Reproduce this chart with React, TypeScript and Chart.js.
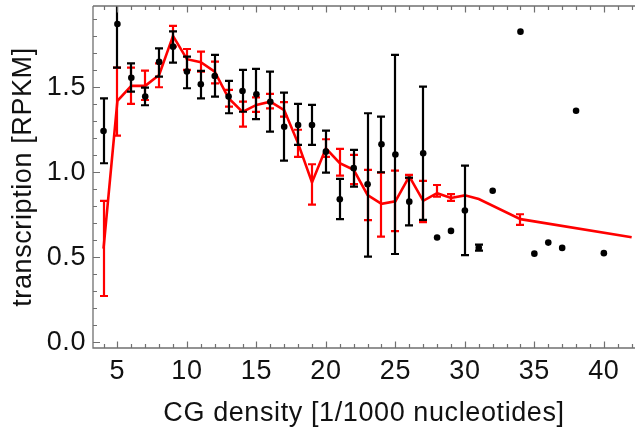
import React, { useEffect, useRef } from 'react';
import { Chart, registerables } from 'chart.js';

Chart.register(...registerables);

// ---- Data ----
// Black series: observed means with error bars
const blackX = [4, 5, 6, 7, 8, 9, 10, 11, 12, 13, 14, 15, 16, 17, 18, 19, 20, 21, 22, 23, 24, 25, 26, 27, 28, 29, 30, 31, 32, 34, 35, 36, 37, 38, 40];
const blackY = [1.243, 1.872, 1.556, 1.445, 1.649, 1.739, 1.592, 1.518, 1.566, 1.445, 1.478, 1.459, 1.415, 1.268, 1.278, 1.278, 1.121, 0.841, 1.024, 0.929, 1.165, 1.104, 0.827, 1.112, 0.616, 0.655, 0.775, 0.556, 0.891, 1.827, 0.521, 0.586, 0.555, 1.362, 0.524];
const blackLow: (number | null)[] = [1.053, 1.615, 1.474, 1.394, 1.562, 1.645, 1.494, 1.435, 1.445, 1.347, 1.356, 1.312, 1.239, 1.068, 1.161, 1.161, 0.998, 0.724, 0.915, 0.504, 1.0, 0.519, 0.687, 0.72, null, null, 0.512, 0.539, null, null, null, null, null, null, null];
const blackHigh: (number | null)[] = [1.435, 2.13, 1.641, 1.498, 1.729, 1.829, 1.68, 1.596, 1.69, 1.537, 1.602, 1.608, 1.592, 1.468, 1.402, 1.396, 1.245, 0.961, 1.131, 1.347, 1.327, 1.69, 0.968, 1.504, null, null, 1.039, 0.574, null, null, null, null, null, null, null];

// Red series: model line with error bars
const redX = [4, 5, 6, 7, 8, 9, 10, 11, 12, 13, 14, 15, 16, 17, 18, 19, 20, 21, 22, 23, 24, 25, 26, 27, 28, 29, 30, 31, 34, 42];
const redY = [0.55, 1.42, 1.508, 1.508, 1.572, 1.802, 1.665, 1.647, 1.592, 1.435, 1.355, 1.396, 1.415, 1.366, 1.17, 0.94, 1.141, 1.053, 1.014, 0.866, 0.814, 0.829, 0.976, 0.832, 0.877, 0.849, 0.864, 0.842, 0.724, 0.618];
const redLow: (number | null)[] = [0.272, 1.215, 1.402, 1.425, 1.5, 1.739, 1.602, 1.592, 1.523, 1.386, 1.268, 1.355, 1.376, 1.327, 1.09, 0.81, 1.09, 0.98, 0.93, 0.718, 0.621, 0.653, 0.965, 0.707, 0.856, 0.831, null, null, 0.69, null];
const redHigh: (number | null)[] = [0.831, 1.615, 1.615, 1.598, 1.641, 1.861, 1.725, 1.709, 1.651, 1.484, 1.415, 1.44, 1.461, 1.412, 1.25, 1.047, 1.194, 1.137, 1.102, 1.014, 0.998, 1.009, 0.985, 0.949, 0.925, 0.871, null, null, 0.753, null];

// Axes
const xTicks = [5, 10, 15, 20, 25, 30, 35, 40];
const yTicks = [0, 0.5, 1.0, 1.5];
const xRange = [3.243, 42.24];
const yRange = [-0.034, 1.978];
const xMinorStep = 1;
const yMinorStep = 0.1;
const xTitle = 'CG density [1/1000 nucleotides]';
const yTitle = 'transcription [RPKM]';

const FONT = "'Liberation Sans', Arial, Helvetica, sans-serif";
const TEXT = '#111111';
const AXIS = '#707070';

const errorBarPlugin = {
  id: 'errorBars',
  beforeDatasetDraw(chart: any, args: any) {
    const ds = chart.data.datasets[args.index];
    if (!ds.errLow) return;
    const yScale = chart.scales.y;
    const ctx: CanvasRenderingContext2D = chart.ctx;
    const a = chart.chartArea;
    ctx.save();
    ctx.beginPath();
    ctx.rect(a.left, a.top, a.right - a.left, a.bottom - a.top);
    ctx.clip();
    ctx.strokeStyle = ds.errColor;
    ctx.lineWidth = 2.2;
    ctx.lineCap = 'butt';
    args.meta.data.forEach((el: any, i: number) => {
      const lo = ds.errLow[i];
      const hi = ds.errHigh[i];
      if (lo == null || hi == null) return;
      const px = Math.round(el.x);
      const pl = yScale.getPixelForValue(lo);
      const ph = yScale.getPixelForValue(hi);
      const cw = 4;
      ctx.beginPath();
      ctx.moveTo(px, pl);
      ctx.lineTo(px, ph);
      ctx.moveTo(px - cw, pl);
      ctx.lineTo(px + cw, pl);
      ctx.moveTo(px - cw, ph);
      ctx.lineTo(px + cw, ph);
      ctx.stroke();
    });
    ctx.restore();
  },
};

const framePlugin = {
  id: 'frame',
  beforeDraw(chart: any) {
    (chart.ctx as any).letterSpacing = '0.6px';
  },
  afterDraw(chart: any) {
    const ctx: CanvasRenderingContext2D = chart.ctx;
    const { left, right, top, bottom } = chart.chartArea;
    const x = chart.scales.x;
    const y = chart.scales.y;
    ctx.save();
    ctx.strokeStyle = AXIS;
    ctx.lineWidth = 1.3;
    ctx.beginPath();
    ctx.moveTo(left, top);
    ctx.lineTo(left, bottom);
    ctx.lineTo(right, bottom);
    ctx.moveTo(left, top);
    ctx.lineTo(right, top);
    ctx.stroke();

    ctx.lineWidth = 1.2;
    ctx.beginPath();
    const xStart = Math.ceil(x.min / xMinorStep);
    const xEnd = Math.floor(x.max / xMinorStep);
    for (let k = xStart; k <= xEnd; k++) {
      const v = k * xMinorStep;
      const major = xTicks.some((t) => Math.abs(t - v) < 1e-6);
      const len = major ? 6.5 : 4;
      const px = Math.round(x.getPixelForValue(v)) + 0.5;
      ctx.moveTo(px, bottom);
      ctx.lineTo(px, bottom - len);
      ctx.moveTo(px, top);
      ctx.lineTo(px, top + len);
    }
    const yStart = Math.ceil(y.min / yMinorStep);
    const yEnd = Math.floor(y.max / yMinorStep + 1e-6);
    for (let k = yStart; k <= yEnd; k++) {
      const v = k * yMinorStep;
      const major = yTicks.some((t) => Math.abs(t - v) < 1e-6);
      const len = major ? 7 : 4;
      const py = Math.round(y.getPixelForValue(v)) + 0.5;
      ctx.moveTo(left, py);
      ctx.lineTo(left + len, py);
    }
    ctx.stroke();
    ctx.restore();
  },
};

export default function App() {
  const ref = useRef<HTMLCanvasElement | null>(null);

  useEffect(() => {
    if (!ref.current) return;
    const blackData = blackX.map((x, i) => ({ x, y: blackY[i] }));
    const redData = redX.map((x, i) => ({ x, y: redY[i] }));
    const chart = new Chart(ref.current, {
      type: 'scatter',
      data: {
        datasets: [
          {
            label: 'observed',
            data: blackData,
            showLine: false,
            pointRadius: 3.3,
            pointBackgroundColor: '#000000',
            pointBorderWidth: 0,
            borderColor: '#000000',
            errLow: blackLow,
            errHigh: blackHigh,
            errColor: '#000000',
          } as any,
          {
            label: 'model',
            type: 'line',
            data: redData,
            showLine: true,
            pointRadius: 0,
            borderColor: '#ff0000',
            borderWidth: 2.6,
            tension: 0,
            fill: false,
            errLow: redLow,
            errHigh: redHigh,
            errColor: '#ff0000',
          } as any,
        ],
      },
      options: {
        animation: false,
        responsive: false,
        maintainAspectRatio: false,
        events: [],
        layout: { padding: { top: 6, left: 0, right: 0, bottom: 0 } },
        plugins: {
          legend: { display: false },
          tooltip: { enabled: false },
        },
        scales: {
          x: {
            type: 'linear',
            min: xRange[0],
            max: xRange[1],
            grid: { display: false, drawTicks: false },
            border: { display: false },
            ticks: {
              font: { family: FONT, size: 27 },
              color: TEXT,
              padding: 7,
              maxRotation: 0,
              autoSkip: false,
              callback: (v: any) => String(v),
            },
            afterBuildTicks: (s: any) => {
              s.ticks = xTicks.map((v) => ({ value: v }));
            },
            afterFit: (s: any) => {
              s.height = 80;
              s.paddingLeft = 0;
              s.paddingRight = 0;
            },
            title: {
              display: true,
              text: xTitle,
              color: TEXT,
              font: { family: FONT, size: 27, lineHeight: 1 },
              padding: { top: 0, bottom: 0.5 },
            },
          },
          y: {
            type: 'linear',
            min: yRange[0],
            max: yRange[1],
            grid: { display: false, drawTicks: false },
            border: { display: false },
            ticks: {
              font: { family: FONT, size: 27 },
              color: TEXT,
              padding: 7,
              autoSkip: false,
              callback: (v: any) => Number(v).toFixed(1),
            },
            afterBuildTicks: (s: any) => {
              s.ticks = yTicks.map((v) => ({ value: v }));
            },
            afterFit: (s: any) => {
              s.width = 93;
              s.paddingTop = 0;
              s.paddingBottom = 0;
            },
            title: {
              display: true,
              text: yTitle,
              color: TEXT,
              font: { family: FONT, size: 27, lineHeight: 1 },
              padding: { top: 10.5, bottom: 0 },
            },
          },
        },
      } as any,
      plugins: [errorBarPlugin, framePlugin],
    });
    return () => chart.destroy();
  }, []);

  return (
    <div style={{ position: 'absolute', left: 0, top: 0, width: 639, height: 428, background: '#fff' }}>
      <canvas ref={ref} width={639} height={428} style={{ display: 'block', width: 639, height: 428 }} />
    </div>
  );
}
